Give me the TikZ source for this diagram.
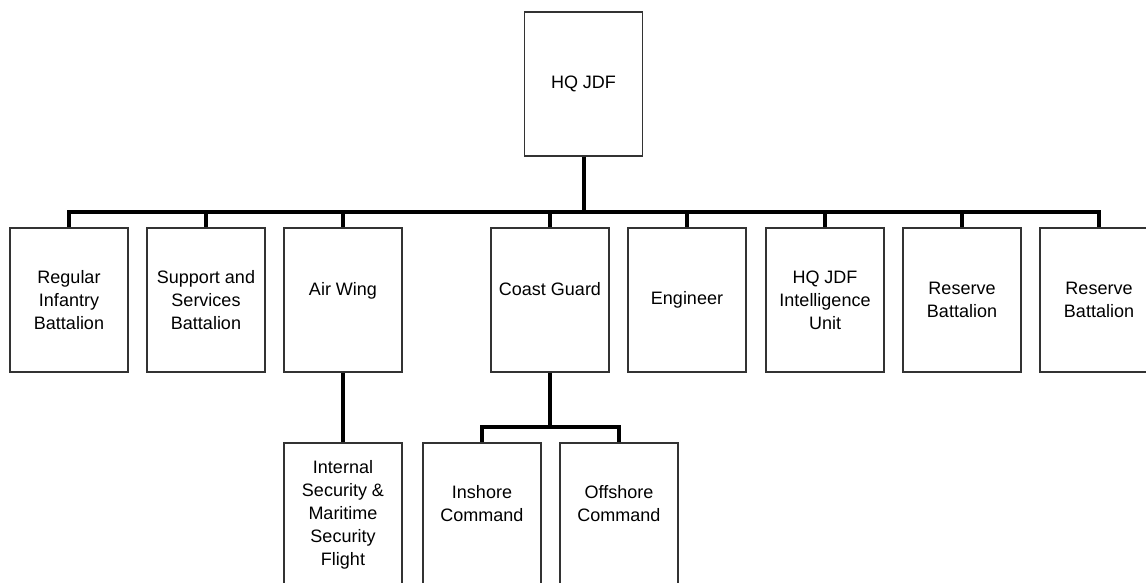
\documentclass[tikz,border=0pt]{standalone}
\usepackage{fontspec}
\setmainfont{Liberation Sans}
\usepackage{tikz}

\begin{document}
\begin{tikzpicture}[x=1pt, y=-1pt,
  unit/.style={draw=black!80, line width=1.2pt, fill=white, minimum width=118pt, minimum height=144pt, inner sep=0pt, align=center, font=\fontsize{18}{23}\selectfont},
  link/.style={line width=4pt, line join=miter}
]
\useasboundingbox (0,0) rectangle (1146,583);
\clip (0,0) rectangle (1146,583);
\node[unit] (hq) at (583.5,84) {HQ JDF};
\node[unit] (inf) at (69,300) {Regular\\Infantry\\Battalion};
\node[unit] (sup) at (206,300) {Support and\\Services\\Battalion};
\node[unit] (air) at (343,300) {Air Wing\\\mbox{}};
\node[unit] (cg) at (550,300) {Coast Guard\\\mbox{}};
\node[unit] (eng) at (687,300) {Engineer};
\node[unit] (intel) at (825,300) {HQ JDF\\Intelligence\\Unit};
\node[unit] (resa) at (962,300) {Reserve\\Battalion};
\node[unit] (resb) at (1099,300) {Reserve\\Battalion};
\node[unit] (isf) at (343,515) {Internal\\Security \&\\Maritime\\Security\\Flight};
\node[unit] (insh) at (482,515) {Inshore\\Command\\\mbox{}};
\node[unit] (offs) at (619,515) {Offshore\\Command\\\mbox{}};
\coordinate (bar) at (583.5,212);
\coordinate (cgbar) at (550,427);
\draw[link] (hq.south) -- (bar);
\foreach \u in {inf,sup,air,cg,eng,intel,resa,resb}
  \draw[link] (bar) -| (\u.north);
\draw[link] (air.south) -- (isf.north);
\draw[link] (cg.south) -- (cgbar);
\draw[link] (cgbar) -| (insh.north);
\draw[link] (cgbar) -| (offs.north);
\end{tikzpicture}
\end{document}
